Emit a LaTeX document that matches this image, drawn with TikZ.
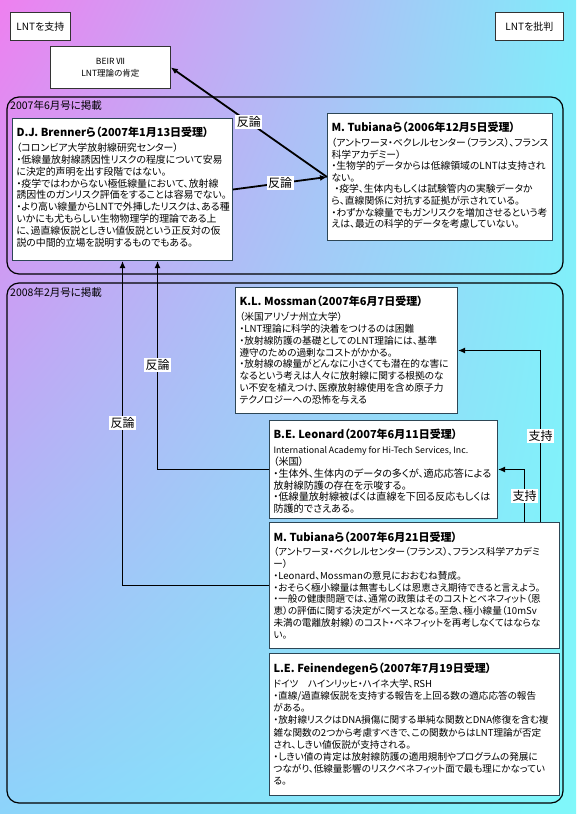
\documentclass[tikz,border=0pt]{standalone}
\usepackage{fontspec}
\setmainfont{Noto Sans CJK JP}[RawFeature={+palt}]
\usetikzlibrary{arrows.meta,shadings}
\definecolor{bgUL}{RGB}{238,128,240}
\definecolor{bgUR}{RGB}{128,236,250}
\definecolor{bgLL}{RGB}{140,212,250}
\definecolor{bgLR}{RGB}{128,248,250}
\definecolor{cardline}{RGB}{45,70,85}
\newcommand\cardtitle[1]{{\fontsize{11}{13}\selectfont\bfseries #1}}
% #1 width, #2 height, #3 font size, #4 baselineskip, #5 content
\newcommand\ptbox[5]{\parbox[t][#2pt][t]{#1pt}{\fontsize{#3}{#4}\selectfont\vspace*{5pt}#5}}
\tikzset{
  panel/.style={draw=black, line width=1.2pt, rounded corners=12pt},
  card/.style={draw=cardline, fill=white, line width=1pt, inner xsep=4pt, inner ysep=4pt, anchor=north west},
  plainbox/.style={draw=black!80, fill=white, line width=0.8pt, anchor=north west, inner sep=0pt, align=center},
  tag/.style={fill=white, inner sep=1.5pt, font=\fontsize{12}{12}\selectfont},
  panellabel/.style={anchor=north west, inner sep=0pt, font=\fontsize{10.5}{12}\selectfont},
  conn/.style={line width=1.8pt, -{Latex[length=7pt,width=6pt]}},
}
\begin{document}
\begin{tikzpicture}[x=1pt,y=-1pt]
\useasboundingbox (0,0) rectangle (576,814);
\shade[upper left=bgUL, upper right=bgUR, lower left=bgLL, lower right=bgLR] (0,0) rectangle (576,814);

% top labels
\node[plainbox, minimum width=60pt, minimum height=28pt, font=\fontsize{10}{12}\selectfont] (pro) at (10,12) {LNTを支持};
\node[plainbox, minimum width=68pt, minimum height=28pt, font=\fontsize{10}{12}\selectfont] (con) at (495,12) {LNTを批判};
\node[plainbox, minimum width=120pt, minimum height=42pt, font=\fontsize{8.5}{12}\selectfont] (beir) at (50,46) {BEIR Ⅶ\\LNT理論の肯定};

% panels
\draw[panel] (7,97) rectangle (563,274);
\node[panellabel] (lab2007) at (10,100) {2007年6月号に掲載};
\draw[panel] (7,283) rectangle (563,803);
\node[panellabel] (lab2008) at (10,287) {2008年2月号に掲載};

% cards
\node[card] (brenner) at (12,118) {\ptbox{212}{134}{9.9}{11.8}{%
\cardtitle{D.J. Brennerら（2007年1月13日受理）}\\[3pt]
（コロンビア大学放射線研究センター）\\
・低線量放射線誘因性リスクの程度について安易\\
に決定的声明を出す段階ではない。\\
・疫学ではわからない極低線量において、放射線\\
誘因性のガンリスク評価をすることは容易でない。\\
・より高い線量からLNTで外挿したリスクは、ある種\\
いかにも尤もらしい生物物理学的理論である上\\
に、過直線仮説としきい値仮説という正反対の仮\\
説の中間的立場を説明するものでもある。}};

\node[card] (tub06) at (327,113) {\ptbox{217}{119}{9.8}{11.6}{%
\cardtitle{M. Tubianaら（2006年12月5日受理）}\\[3pt]
（アントワーヌ・ベクレルセンター（フランス）、フランス\\
科学アカデミー）\\
・生物学的データからは低線領域のLNTは支持され\\
ない。\\
\hspace*{3pt}・疫学、生体内もしくは試験管内の実験データか\\
ら、直線関係に対抗する証拠が示されている。\\
・わずかな線量でもガンリスクを増加させるという考\\
えは、最近の科学的データを考慮していない。}};

\node[card] (mossman) at (235,287) {\ptbox{214}{118}{9.7}{11.8}{%
\cardtitle{K.L. Mossman（2007年6月7日受理）}\\[3pt]
（米国アリゾナ州立大学）\\
・LNT理論に科学的決着をつけるのは困難\\
・放射線防護の基礎としてのLNT理論には、基準\\
遵守のための過剰なコストがかかる。\\
・放射線の線量がどんなに小さくても潜在的な害に\\
なるという考えは人々に放射線に関する根拠のな\\
い不安を植えつけ、医療放射線使用を含め原子力\\
テクノロジーへの恐怖を与える}};

\node[card] (leonard) at (269,420) {\ptbox{220}{90}{10.1}{11.8}{%
\cardtitle{B.E. Leonard（2007年6月11日受理）}\\[3pt]
{\fontsize{8.8}{11}\selectfont International Academy for Hi-Tech Services, Inc.}\\
（米国）\\
・生体外、生体内のデータの多くが、適応応答による\\
放射線防護の存在を示唆する。\\
・低線量放射線被ばくは直線を下回る反応もしくは\\
防護的でさえある。}};

\node[card] (tub07) at (269,522) {\ptbox{282}{118}{9.6}{11.8}{%
\cardtitle{M. Tubianaら（2007年6月21日受理）}\\[3pt]
（アントワーヌ・ベクレルセンター（フランス）、フランス科学アカデミ\\
ー）\\
・Leonard、Mossmanの意見におおむね賛成。\\
・おそらく極小線量は無害もしくは恩恵さえ期待できると言えよう。\\
・一般の健康問題では、通常の政策はそのコストとベネフィット（恩\\
恵）の評価に関する決定がベースとなる。至急、極小線量（10mSv\\
未満の電離放射線）のコスト・ベネフィットを再考しなくてはならな\\
い。}};

\node[card] (fein) at (269,653) {\ptbox{282}{134}{9.6}{12.2}{%
\cardtitle{L.E. Feinendegenら（2007年7月19日受理）}\\[3pt]
ドイツ　ハインリッヒ・ハイネ大学、RSH\\
・直線/過直線仮説を支持する報告を上回る数の適応応答の報告\\
がある。\\
・放射線リスクはDNA損傷に関する単純な関数とDNA修復を含む複\\
雑な関数の2つから考慮すべきで、この関数からはLNT理論が否定\\
され、しきい値仮説が支持される。\\
・しきい値の肯定は放射線防護の適用規制やプログラムの発展に\\
つながり、低線量影響のリスクベネフィット面で最も理にかなってい\\
る。}};

% connectors
\draw[conn] (tub06.west) -- (beir.east) node[tag, pos=0.5] {反論};
\draw[conn] (brenner.east) -- (tub06.west) node[tag, pos=0.5] {反論};
\draw[conn] (leonard.west) -| ([xshift=35pt]brenner.south) node[tag, pos=0.75] {反論};
\draw[conn] (tub07.west) -| (brenner.south) node[tag, pos=0.75] {反論};
\draw[conn] ([xshift=126pt]tub07.north) |- (mossman.east) node[tag, pos=0.25] {支持};
\draw[conn] ([xshift=110pt]tub07.north) |- (leonard.east) node[tag, pos=0.25] {支持};
\end{tikzpicture}
\end{document}
